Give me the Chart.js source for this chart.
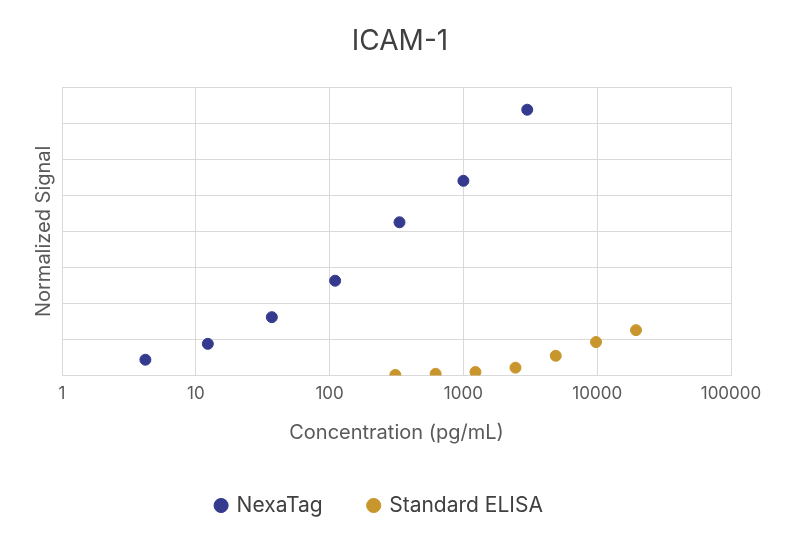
<!DOCTYPE html>
<html><head><meta charset="utf-8">
<script src="https://cdn.jsdelivr.net/npm/chart.js@4"></script>
<style>html,body{margin:0;background:#fff}#w{width:800px;height:542px}</style>
</head><body><div id="w"><canvas id="c"></canvas></div>
<script>
const nexaX=[4.2,12.3,37,110,333,1000,3000];
const nexaY=[0.44,0.88,1.62,2.63,4.25,5.40,7.37];
const elisaX=[310,620,1230,2450,4900,9800,19500];
const elisaY=[0.02,0.05,0.1,0.22,0.55,0.93,1.26];
const xTicks=[1,10,100,1000,10000,100000];
const chartTitle='ICAM-1';
const toPts=(xs,ys)=>xs.map((x,i)=>({x:x,y:ys[i]}));
Chart.defaults.font.family='Inter, Lato, sans-serif';
Chart.defaults.color='#595959';
const titlePlugin={id:'ctitle',afterDraw(ch){const c=ch.ctx;c.save();c.font='normal 28px Inter, Lato, sans-serif';c.fillStyle='#404040';c.textAlign='center';c.textBaseline='middle';c.fillText(chartTitle,400,42);c.restore();}};
new Chart(document.getElementById('c'),{
type:'scatter',
plugins:[titlePlugin],
data:{datasets:[
{label:'NexaTag',data:toPts(nexaX,nexaY),backgroundColor:'#343a8e',borderColor:'#343a8e',pointRadius:5.5,pointHoverRadius:5.5},
{label:'Standard ELISA',data:toPts(elisaX,elisaY),backgroundColor:'#c9962e',borderColor:'#c9962e',pointRadius:5.5,pointHoverRadius:5.5}
]},
options:{responsive:true,maintainAspectRatio:false,animation:false,
layout:{padding:{left:28,right:69,top:87,bottom:16}},
plugins:{
legend:{position:'bottom',labels:{usePointStyle:true,pointStyle:'circle',boxWidth:10,boxHeight:10,font:{size:21},padding:46,color:'#404040'}},
tooltip:{enabled:false}},
scales:{
x:{type:'logarithmic',min:1,max:100000,
afterBuildTicks:a=>{a.ticks=xTicks.map(v=>({value:v}));},
ticks:{font:{size:17},callback:v=>String(v),padding:8,autoSkip:false,maxRotation:0},
grid:{color:'#d9d9d9',drawTicks:false},border:{color:'#d9d9d9'},
title:{display:true,text:'Concentration (pg/mL)',font:{size:20},padding:{top:9}}},
y:{min:0,max:8,ticks:{display:false,stepSize:1},
grid:{color:'#d9d9d9',drawTicks:false},border:{color:'#d9d9d9'},
title:{display:true,text:'Normalized Signal',font:{size:20},padding:{bottom:6}}}
}}});
</script></body></html>
